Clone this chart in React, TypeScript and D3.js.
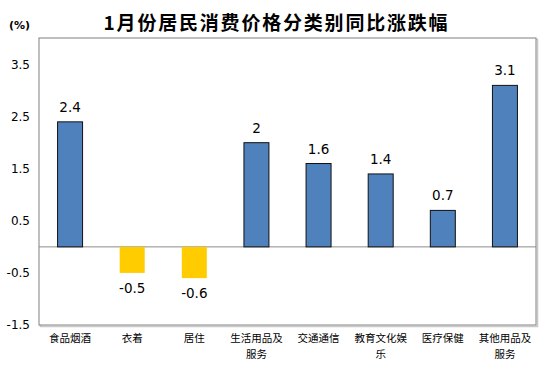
import React from "react";
import * as d3 from "d3";

const categories = ["食品烟酒", "衣着", "居住", "生活用品及服务", "交通通信", "教育文化娱乐", "医疗保健", "其他用品及服务"];
const labelLines = [["食品烟酒"], ["衣着"], ["居住"], ["生活用品及", "服务"], ["交通通信"], ["教育文化娱", "乐"], ["医疗保健"], ["其他用品及", "服务"]];
const values = [2.4, -0.5, -0.6, 2, 1.6, 1.4, 0.7, 3.1];
const tickValues = [-1.5, -0.5, 0.5, 1.5, 2.5, 3.5];

const W = 550, H = 383;
const left = 39, right = 536, top = 38, bottom = 325;

export default function App() {
  const x = d3.scaleBand<string>().domain(categories).range([left, right]).paddingInner(0.6).paddingOuter(0.3);
  const y = d3.scaleLinear().domain([-1.5, 4]).range([bottom, top + 0.5]);
  const bw = 25;
  const sans = "'DejaVu Sans', Verdana, sans-serif";
  return (
    <svg width={W} height={H} style={{ position: "absolute", left: 0, top: 0, background: "#fff" }}>
      <text x={276.5} y={29.5} textAnchor="middle" fontFamily="'Noto Sans CJK SC', sans-serif" fontWeight="bold" fontSize={19} letterSpacing={1.8}>1月份居民消费价格分类别同比涨跌幅</text>
      <text x={9} y={29} fontFamily={sans} fontWeight="bold" fontSize={11}>(%)</text>
      <rect x={left + 1.5} y={top + 1.5} width={right - left} height={bottom - top} fill="none" stroke="#c8c8c8" strokeWidth={1.5} />
      <rect x={left} y={top} width={right - left} height={bottom - top} fill="#fff" stroke="#808080" strokeWidth={1} />
      {tickValues.map((t) => (
        <text key={t} x={30} y={y(t) + 4} textAnchor="end" fontFamily={sans} fontSize={12} fill="#000">{t}</text>
      ))}
      <line x1={left} x2={right} y1={y(0)} y2={y(0)} stroke="#8c8c8c" strokeWidth={1} />
      {categories.map((c, i) => {
        const v = values[i];
        const cx = x(c)! + x.bandwidth() / 2;
        const y0 = y(Math.max(0, v));
        const h = Math.abs(y(v) - y(0));
        const pos = v >= 0;
        return (
          <g key={c}>
            <rect x={cx - bw / 2} y={y0} width={bw} height={h} fill={pos ? "#4F81BD" : "#FFCC00"} stroke={pos ? "#111" : "none"} strokeWidth={1} />
            <text x={cx} y={pos ? y(v) - 10 : y(v) + 20} textAnchor="middle" fontFamily={sans} fontSize={13.5} fill="#000">{v}</text>
            {labelLines[i].map((ln, j) => (
              <text key={j} x={cx} y={342 + j * 15.5} textAnchor="middle" fontFamily="'Noto Sans CJK SC', serif" fontSize={10.5} fill="#000">{ln}</text>
            ))}
          </g>
        );
      })}
    </svg>
  );
}
